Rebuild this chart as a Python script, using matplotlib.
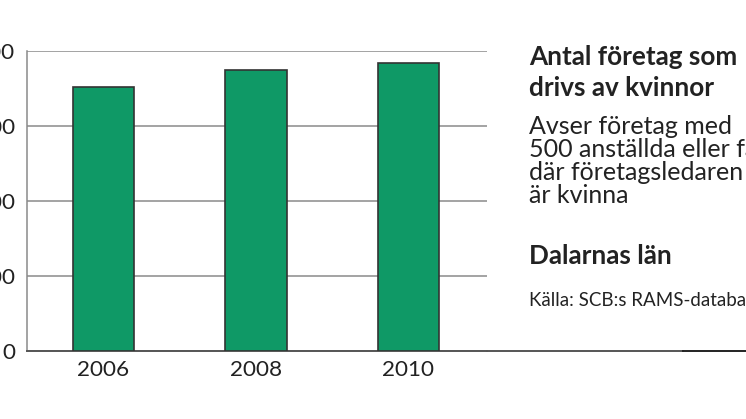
import matplotlib
matplotlib.use("Agg")
import matplotlib.pyplot as plt
from matplotlib.lines import Line2D

# --- data (y tick labels are cropped in the reference) ---
years = ["2006", "2008", "2010"]
companies = [3512, 3747, 3840]
y_ticks = [0, 1000, 2000, 3000, 4000]
y_tick_labels = ["0", "1000", "2000", "3000", "4000"]

title_lines = ["Antal företag som", "drivs av kvinnor"]
body_lines = ["Avser företag med", "500 anställda eller färre", "där företagsledaren", "är kvinna"]
region = "Dalarnas län"
source = "Källa: SCB:s RAMS-databas"

BAR_COLOR = "#0f9966"
FONT = ["Lato", "DejaVu Sans"]

plt.rcParams["font.family"] = FONT
W, H = 746, 419
fig = plt.figure(figsize=(W / 100, H / 100), dpi=100)

ax_left, ax_right, ax_top, ax_bot = 27, 487, 50.7, 351
ax = fig.add_axes([ax_left / W, 1 - ax_bot / H, (ax_right - ax_left) / W, (ax_bot - ax_top) / H])

x = range(len(years))
ax.bar(x, companies, width=0.403, color=BAR_COLOR, edgecolor="#333333", linewidth=1.2, zorder=3)
ax.set_xlim(-0.502, 2.515)
ax.set_ylim(0, 4000)
ax.set_yticks(y_ticks)
ax.set_yticklabels(y_tick_labels)
ax.set_xticks(list(x))
ax.set_xticklabels(years)
ax.tick_params(axis="y", length=0, pad=8.6, labelsize=16.2, colors="#222222")
ax.tick_params(axis="x", length=0, pad=6.6, labelsize=16.2, colors="#222222")
ax.yaxis.grid(True, color="#8a8a8a", linewidth=1.1, zorder=0)
ax.set_axisbelow(True)
for s in ("top", "right"):
    ax.spines[s].set_visible(False)
ax.spines["left"].set_color("#8a8a8a")
ax.spines["left"].set_linewidth(1.1)
ax.spines["bottom"].set_color("#555555")
ax.spines["bottom"].set_linewidth(1.4)

# baseline runs on to the right edge of the picture
yb = 1 - ax_bot / H
fig.add_artist(Line2D([ax_right / W, 683 / W], [yb, yb], color="#555555", linewidth=1.4))
fig.add_artist(Line2D([683 / W, 1.0], [yb, yb], color="#222222", linewidth=1.4))

# side text
tx = 529 / W
def put(y_px, s, size, bold=False):
    fig.text(tx, 1 - y_px / H, s, fontsize=size, fontweight="bold" if bold else "normal",
             color="#222222", va="baseline", ha="left")

for y_px, s in zip([65, 96], title_lines):
    put(y_px, s, 18.8, bold=True)
for y_px, s in zip([134, 157, 180, 203], body_lines):
    put(y_px, s, 18)
put(264, region, 18.8, bold=True)
put(306, source, 13.5)

fig.savefig("out.png", dpi=100)
